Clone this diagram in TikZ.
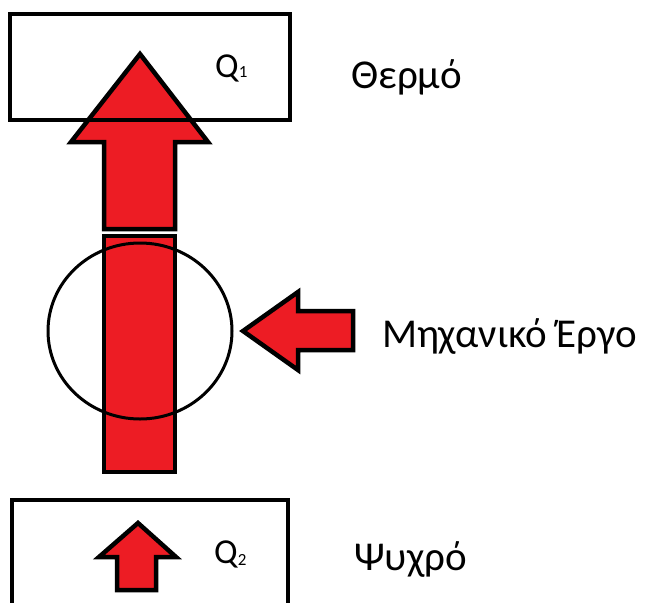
\documentclass[tikz,border=0pt]{standalone}
\usepackage{fontspec}
\setmainfont{Carlito}
\usetikzlibrary{shapes.geometric}
\definecolor{paintred}{HTML}{ED1C24}
\tikzset{
  redarrow/.style={draw=black, line width=4.5pt, fill=paintred, line join=miter},
  tankbox/.style={draw=black, line width=4.5pt},
  lbl/.style={anchor=base west, inner sep=0pt, font=\fontsize{41}{45}\selectfont},
  qlbl/.style={anchor=base west, inner sep=0pt, font=\fontsize{35}{39}\selectfont}
}
\begin{document}
\begin{tikzpicture}[x=1pt,y=-1pt]
\useasboundingbox[fill=white] (0,0) rectangle (652,602);
% big arrow into hot reservoir
\draw[redarrow] (140,54) -- (208,142) -- (175,142) -- (175,229) -- (104,229) -- (104,142) -- (71,142) -- cycle;
% hot reservoir box
\draw[tankbox] (10,14) rectangle (290,120);
% bar through machine
\draw[redarrow] (104,236) rectangle (175,472);
% machine circle
\node[draw=black, line width=3pt, ellipse, minimum width=184pt, minimum height=176pt, inner sep=0pt] (machine) at (140,331) {};
% work arrow
\draw[redarrow] (243,331) -- (298,292) -- (298,311) -- (353,311) -- (353,350) -- (298,350) -- (298,370) -- cycle;
% cold reservoir box
\draw[tankbox] (12,615) -- (12,500) -- (288,500) -- (288,615);
% small arrow
\draw[redarrow] (138,523) -- (176,557) -- (156,557) -- (156,590) -- (117,590) -- (117,557) -- (99,557) -- cycle;
% labels
\node[qlbl] (q1) at (215,77) {Q\raisebox{0pt}{\fontsize{17}{18}\selectfont 1}};
\node[qlbl] (q2) at (214,563) {Q\raisebox{-2pt}{\fontsize{17}{18}\selectfont 2}};
\node[lbl] (hot) at (351,88) {Θερμό};
\node[lbl] (work) at (382,347) {Μηχανικό Έργο};
\node[lbl] (cold) at (354,570) {Ψυχρό};
\end{tikzpicture}
\end{document}
